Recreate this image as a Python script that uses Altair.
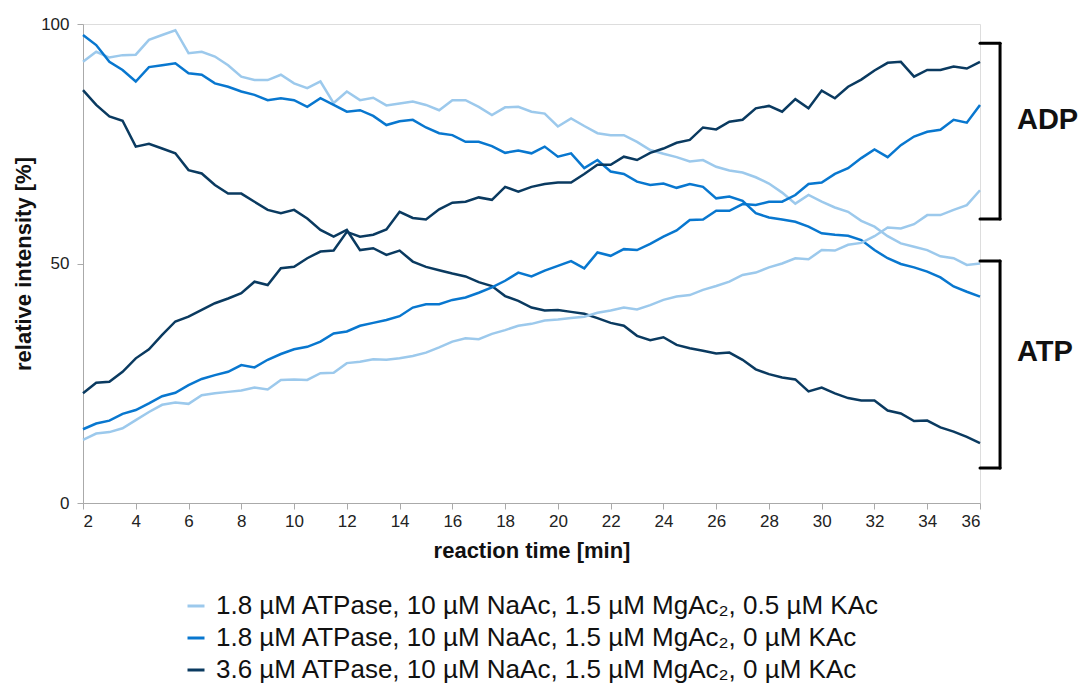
import altair as alt
import pandas as pd

times = [2.0, 2.5, 3.0, 3.5, 4.0, 4.5, 5.0, 5.5, 6.0, 6.5, 7.0, 7.5, 8.0, 8.5, 9.0, 9.5,
         10.0, 10.5, 11.0, 11.5, 12.0, 12.5, 13.0, 13.5, 14.0, 14.5, 15.0, 15.5, 16.0, 16.5,
         17.0, 17.5, 18.0, 18.5, 19.0, 19.5, 20.0, 20.5, 21.0, 21.5, 22.0, 22.5, 23.0, 23.5,
         24.0, 24.5, 25.0, 25.5, 26.0, 26.5, 27.0, 27.5, 28.0, 28.5, 29.0, 29.5, 30.0, 30.5,
         31.0, 31.5, 32.0, 32.5, 33.0, 33.5, 34.0, 34.5, 35.0, 35.5, 36.0]

light_atp = [92.1, 94.2, 93.0, 93.5, 93.6, 96.7, 97.7, 98.7, 93.9, 94.2, 93.2, 91.4, 89.0, 88.3,
             88.3, 89.4, 87.6, 86.6, 88.0, 83.5, 85.9, 84.1, 84.6, 83.0, 83.4, 83.8, 83.1, 82.0,
             84.1, 84.1, 82.7, 81.0, 82.6, 82.7, 81.7, 81.3, 78.6, 80.3, 78.7, 77.2, 76.8, 76.8,
             75.4, 73.7, 72.9, 72.2, 71.3, 71.6, 70.2, 69.4, 69.0, 68.0, 66.7, 64.8, 62.5, 64.3,
             62.9, 61.7, 60.8, 58.9, 57.7, 55.7, 54.2, 53.5, 52.8, 51.5, 51.1, 49.7, 50.0]
medium_atp = [97.7, 95.6, 92.1, 90.4, 88.0, 91.0, 91.4, 91.8, 89.7, 89.4, 87.6, 86.9, 85.9, 85.2,
              84.1, 84.5, 84.1, 82.7, 84.5, 83.1, 81.7, 82.0, 80.8, 78.9, 79.7, 80.0, 78.4, 77.2,
              76.8, 75.4, 75.4, 74.5, 73.1, 73.6, 73.0, 74.4, 72.3, 73.0, 69.9, 71.6, 69.2, 68.7,
              67.1, 66.4, 66.7, 65.8, 66.6, 66.0, 63.6, 64.0, 63.1, 60.5, 59.6, 59.2, 58.7, 57.7,
              56.3, 56.0, 55.8, 54.9, 52.8, 51.1, 49.9, 49.2, 48.3, 47.1, 45.2, 44.1, 43.1]
dark_atp = [86.2, 83.1, 80.7, 79.8, 74.4, 75.0, 74.0, 73.0, 69.5, 68.8, 66.4, 64.6, 64.6, 62.9,
            61.2, 60.5, 61.2, 59.4, 57.0, 55.6, 57.0, 52.8, 53.2, 51.8, 52.7, 50.4, 49.3, 48.6,
            47.9, 47.3, 46.1, 45.3, 43.2, 42.2, 40.8, 40.2, 40.3, 39.9, 39.5, 38.6, 37.6, 37.0,
            34.9, 34.0, 34.6, 33.0, 32.3, 31.8, 31.2, 31.4, 29.9, 27.9, 26.9, 26.2, 25.8, 23.3,
            24.1, 22.9, 21.9, 21.4, 21.4, 19.3, 18.7, 17.1, 17.2, 15.8, 14.9, 13.8, 12.5]
light_adp = [13.2, 14.5, 14.8, 15.6, 17.3, 19.0, 20.5, 21.0, 20.7, 22.5, 22.9, 23.2, 23.5, 24.1,
             23.7, 25.7, 25.8, 25.7, 27.1, 27.2, 29.2, 29.5, 30.0, 29.9, 30.2, 30.7, 31.4, 32.5,
             33.7, 34.4, 34.2, 35.3, 36.1, 37.0, 37.4, 38.1, 38.3, 38.6, 38.9, 39.7, 40.2, 40.8,
             40.4, 41.3, 42.4, 43.1, 43.4, 44.5, 45.3, 46.2, 47.6, 48.1, 49.2, 50.0, 51.1, 50.9,
             52.8, 52.7, 53.9, 54.3, 55.7, 57.5, 57.3, 58.2, 60.1, 60.1, 61.2, 62.2, 65.3]
medium_adp = [15.4, 16.6, 17.2, 18.6, 19.4, 20.8, 22.3, 23.0, 24.6, 25.9, 26.7, 27.4, 28.8, 28.3,
              29.9, 31.1, 32.1, 32.6, 33.7, 35.4, 35.8, 37.0, 37.6, 38.2, 39.0, 40.8, 41.5, 41.5,
              42.4, 42.9, 43.9, 45.0, 46.4, 48.1, 47.3, 48.5, 49.5, 50.5, 49.0, 52.3, 51.6, 53.0,
              52.8, 54.1, 55.6, 56.9, 59.1, 59.2, 61.0, 61.0, 62.4, 62.2, 62.9, 62.9, 64.3, 66.6,
              66.9, 68.7, 69.9, 72.0, 73.8, 72.2, 74.7, 76.5, 77.5, 77.9, 80.0, 79.4, 83.1]
dark_adp = [22.9, 25.1, 25.3, 27.4, 30.2, 32.1, 35.1, 37.9, 38.9, 40.3, 41.7, 42.7, 43.8, 46.2,
            45.5, 49.0, 49.3, 51.1, 52.5, 52.7, 56.6, 55.6, 56.0, 57.1, 60.8, 59.5, 59.2, 61.3,
            62.7, 62.9, 63.8, 63.3, 66.0, 65.0, 66.0, 66.6, 66.9, 66.9, 68.7, 70.6, 70.6, 72.3,
            71.6, 73.1, 74.0, 75.2, 75.8, 78.4, 78.0, 79.6, 80.0, 82.4, 82.9, 81.7, 84.3, 82.4,
            86.1, 84.5, 86.9, 88.4, 90.3, 91.9, 92.1, 89.0, 90.4, 90.4, 91.1, 90.7, 92.1]

conditions = [
    "1.8 µM ATPase, 10 µM NaAc, 1.5 µM MgAc₂, 0.5 µM KAc",
    "1.8 µM ATPase, 10 µM NaAc, 1.5 µM MgAc₂, 0 µM KAc",
    "3.6 µM ATPase, 10 µM NaAc, 1.5 µM MgAc₂, 0 µM KAc",
]
colors = ["#9cc9ec", "#0877cf", "#0a3a60"]

x_ticks = [2, 4, 6, 8, 10, 12, 14, 16, 18, 20, 22, 24, 26, 28, 30, 32, 34, 36]
y_ticks = [0, 50, 100]

# bracket annotations (data units)
bracket_names = ["ADP", "ATP"]
bracket_low = [59.3, 7.3]
bracket_high = [96.0, 50.5]
bracket_label_y = [80.0, 31.5]
bracket_x_start = 36.0
bracket_x_end = 36.76
label_x = 37.4

series = [
    (conditions[0], "ATP", light_atp),
    (conditions[1], "ATP", medium_atp),
    (conditions[2], "ATP", dark_atp),
    (conditions[0], "ADP", light_adp),
    (conditions[1], "ADP", medium_adp),
    (conditions[2], "ADP", dark_adp),
]
rows = []
for cond, sp, vals in series:
    for t, v in zip(times, vals):
        rows.append({"time": t, "value": v, "condition": cond, "species": sp,
                     "key": cond + sp})
df = pd.DataFrame(rows)

FONT = "Liberation Sans"

x_scale = alt.Scale(domain=[2, 36], nice=False, zero=False)
y_scale = alt.Scale(domain=[0, 100], nice=False)

lines = alt.Chart(df).mark_line(strokeWidth=2.5).encode(
    x=alt.X("time:Q", scale=x_scale,
            axis=alt.Axis(title="reaction time [min]", values=x_ticks, grid=False,
                          domainColor="#aaaaaa", tickColor="#aaaaaa", tickSize=6,
                          labelFontSize=17, labelColor="#222222", labelFont=FONT,
                          labelPadding=4, titleFont=FONT, titleFontSize=22,
                          titleFontWeight="bold", titleColor="#111111", titlePadding=11)),
    y=alt.Y("value:Q", scale=y_scale,
            axis=alt.Axis(title="relative intensity [%]", values=y_ticks, grid=False,
                          domainColor="#aaaaaa", tickColor="#aaaaaa", tickSize=6,
                          labelFontSize=17, labelColor="#222222", labelFont=FONT,
                          labelPadding=8, titleFont=FONT, titleFontSize=22,
                          titleFontWeight="bold", titleColor="#111111", titlePadding=5)),
    color=alt.Color("condition:N", scale=alt.Scale(domain=conditions, range=colors),
                    sort=conditions,
                    legend=alt.Legend(title=None, orient="none", legendX=100, legendY=569,
                                      symbolType="stroke", symbolStrokeWidth=3,
                                      symbolSize=289, labelFontSize=26, labelFont=FONT,
                                      labelColor="#111111", rowPadding=6, labelOffset=7,
                                      padding=0, labelLimit=900)),
    detail="key:N",
    order=alt.Order("time:Q"),
)

bdf = pd.DataFrame({"name": bracket_names, "low": bracket_low, "high": bracket_high,
                    "ly": bracket_label_y})
bdf["xs"] = bracket_x_start
bdf["xe"] = bracket_x_end
bdf["lx"] = label_x

vert = alt.Chart(bdf).mark_rule(color="black", strokeWidth=3, strokeCap="round").encode(
    x=alt.X("xe:Q", scale=x_scale), y=alt.Y("low:Q", scale=y_scale), y2="high:Q")
top_arm = alt.Chart(bdf).mark_rule(color="black", strokeWidth=3, strokeCap="round").encode(
    x=alt.X("xs:Q", scale=x_scale), x2="xe:Q", y=alt.Y("high:Q", scale=y_scale))
bot_arm = alt.Chart(bdf).mark_rule(color="black", strokeWidth=3, strokeCap="round").encode(
    x=alt.X("xs:Q", scale=x_scale), x2="xe:Q", y=alt.Y("low:Q", scale=y_scale))
labels = alt.Chart(bdf).mark_text(align="left", baseline="middle", fontSize=29,
                                  fontWeight="bold", font=FONT, color="#111111").encode(
    x=alt.X("lx:Q", scale=x_scale), y=alt.Y("ly:Q", scale=y_scale), text="name:N")

chart = alt.layer(lines, vert, top_arm, bot_arm, labels).properties(
    width=897, height=479,
    autosize=alt.AutoSizeParams(type="none"),
    padding={"left": 83, "top": 24, "right": 104, "bottom": 190},
).configure_view(stroke=None).configure(background="white")

chart.save("out.html", embed_options={"renderer": "svg", "actions": False})
